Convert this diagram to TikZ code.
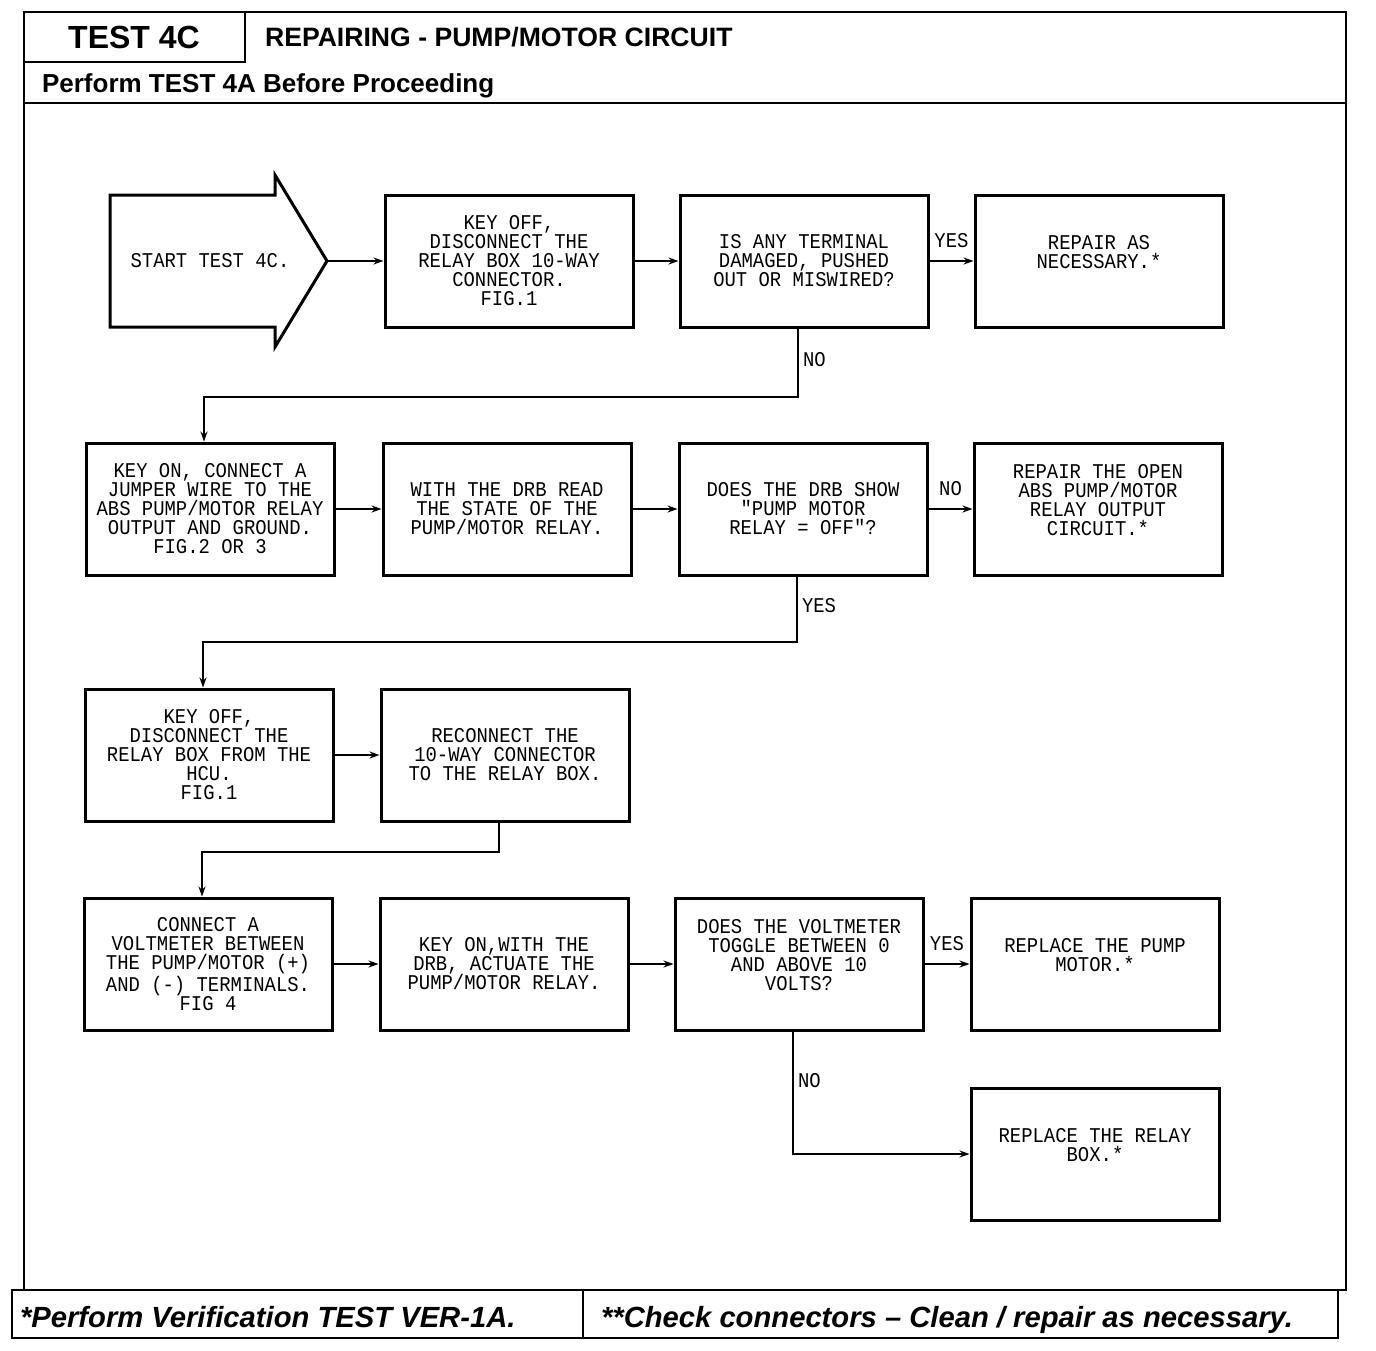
\documentclass[tikz,border=0pt]{standalone}
\usepackage{fontspec}
\setmainfont{Liberation Sans}
\newfontfamily\plotfont[FakeStretch=0.9]{Liberation Mono}
\usetikzlibrary{arrows.meta}

\begin{document}
\begin{tikzpicture}[x=0.5pt,y=-0.5pt,
    stepbox/.style={draw,line width=1.5pt,minimum width=124pt,minimum height=66pt,
        align=center,inner sep=0pt,font=\plotfont\fontsize{10.5}{9.5}\selectfont},
    flow/.style={line width=1pt,-{Stealth[length=5pt,width=3.5pt]}},
    tag/.style={font=\plotfont\fontsize{10.5}{9.5}\selectfont,inner sep=2pt}]
    \useasboundingbox (0,0) rectangle (1376,1350);

    % frame and header
    \draw[line width=1.2pt] (24,12) rectangle (1346,1290);
    \draw[line width=1.2pt] (245,12) -- (245,62) -- (24,62);
    \draw[line width=1.2pt] (24,103) -- (1346,103);
    \node[font=\bfseries\fontsize{16}{16}\selectfont] (test) at (134,37) {TEST 4C};
    \node[anchor=base west,font=\bfseries\fontsize{13.3}{14}\selectfont] (title) at (258,46) {REPAIRING - PUMP/MOTOR CIRCUIT};
    \node[anchor=base west,font=\bfseries\fontsize{13}{14}\selectfont] (before) at (35,92) {Perform TEST 4A Before Proceeding};

    % footer
    \draw[line width=1.2pt] (12,1290) rectangle (1338,1338);
    \draw[line width=1.2pt] (583,1290) -- (583,1338);
    \node[anchor=base west,font=\bfseries\itshape\fontsize{14.6}{16}\selectfont] (note1) at (13,1327) {*Perform Verification TEST VER-1A.};
    \node[anchor=base west,font=\bfseries\itshape\fontsize{14.6}{16}\selectfont] (note2) at (594,1327) {**Check connectors -- Clean / repair as necessary.};

    % start arrow
    \coordinate (tip) at (327,261);
    \draw[line width=1.5pt] (110,195) -- (275,195) -- (275,175) -- (tip) -- (275,347) -- (275,327) -- (110,327) -- cycle;
    \node[tag] (start) at (210,261) {START TEST 4C.};

    % row 1
    \node[stepbox] (b1) at (509,261) {KEY OFF,\\DISCONNECT THE\\RELAY BOX 10-WAY\\CONNECTOR.\\FIG.1};
    \node[stepbox] (q1) at (804,261) {IS ANY TERMINAL\\DAMAGED, PUSHED\\OUT OR MISWIRED?};
    \node[stepbox] (r1) at (1099,261) {REPAIR AS\\NECESSARY.*\\\mbox{}};

    % row 2
    \node[stepbox] (b4) at (210,509) {KEY ON, CONNECT A\\JUMPER WIRE TO THE\\ABS PUMP/MOTOR RELAY\\OUTPUT AND GROUND.\\FIG.2 OR 3};
    \node[stepbox] (b5) at (507,509) {WITH THE DRB READ\\THE STATE OF THE\\PUMP/MOTOR RELAY.};
    \node[stepbox] (q2) at (803,509) {DOES THE DRB SHOW\\"PUMP MOTOR\\RELAY = OFF"?};
    \node[stepbox] (r2) at (1098,509) {REPAIR THE OPEN\\ABS PUMP/MOTOR\\RELAY OUTPUT\\CIRCUIT.*\\\mbox{}};

    % row 3
    \node[stepbox] (b8) at (209,755) {KEY OFF,\\DISCONNECT THE\\RELAY BOX FROM THE\\HCU.\\FIG.1};
    \node[stepbox] (b9) at (505,755) {RECONNECT THE\\10-WAY CONNECTOR\\TO THE RELAY BOX.};

    % row 4
    \node[stepbox] (b10) at (208,964) {CONNECT A\\VOLTMETER BETWEEN\\THE PUMP/MOTOR (+)\\AND (-) TERMINALS.\\FIG 4};
    \node[stepbox] (b11) at (504,964) {KEY ON,WITH THE\\DRB, ACTUATE THE\\PUMP/MOTOR RELAY.};
    \node[stepbox] (q3) at (799,964) {DOES THE VOLTMETER\\TOGGLE BETWEEN 0\\AND ABOVE 10\\VOLTS?\\\mbox{}};
    \node[stepbox] (r3) at (1095,964) {REPLACE THE PUMP\\MOTOR.*\\\mbox{}};
    \node[stepbox] (r4) at (1095,1154) {REPLACE THE RELAY\\BOX.*\\\mbox{}};

    % connectors
    \draw[flow] (tip) -- (b1.west);
    \draw[flow] (b1) -- (q1);
    \draw[flow] (q1) -- node[tag,above=4pt] {YES} (r1);
    \draw[flow] ([xshift=-3pt]q1.south) -- ++(0,68) node[tag,pos=0.45,right] {NO} -| ([xshift=-3pt]b4.north);
    \draw[flow] (b4) -- (b5);
    \draw[flow] (b5) -- (q2);
    \draw[flow] (q2) -- node[tag,above=4pt] {NO} (r2);
    \draw[flow] ([xshift=-3pt]q2.south) -- ++(0,65) node[tag,pos=0.45,right] {YES} -| ([xshift=-3pt]b8.north);
    \draw[flow] (b8) -- (b9);
    \draw[flow] ([xshift=-3pt]b9.south) -- ++(0,29) -| ([xshift=-3pt]b10.north);
    \draw[flow] (b10) -- (b11);
    \draw[flow] (b11) -- (q3);
    \draw[flow] (q3) -- node[tag,above=4pt] {YES} (r3);
    \draw[flow] ([xshift=-3pt]q3.south) |- node[tag,pos=0.2,right] {NO} (r4.west);
\end{tikzpicture}
\end{document}
